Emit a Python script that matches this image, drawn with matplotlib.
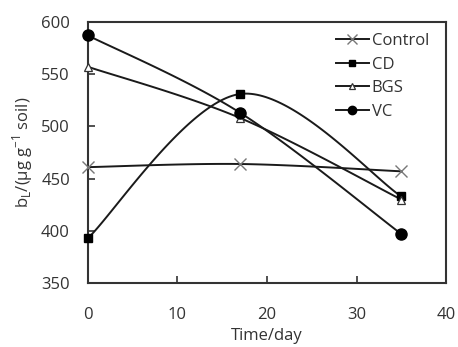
import matplotlib
matplotlib.use("Agg")
import matplotlib.pyplot as plt
import numpy as np

# data
days = [0, 17, 35]
control = [461, 464, 457]
cd = [393, 531, 433]
bgs = [557, 508, 430]
vc = [587, 513, 397]

plt.rcParams['font.family'] = ['Open Sans', 'DejaVu Sans']

fig = plt.figure(figsize=(4.58, 3.47), dpi=100)
ax = fig.add_axes([0.192, 0.184, 0.782, 0.753])
ax.set_xlim(0, 40)
ax.set_ylim(350, 600)

# axes size in pixels, used to smooth in screen space like Excel does
W = 0.782 * 458
H = 0.753 * 347


def smooth(xs, ys, n=60):
    # Catmull-Rom style Bezier through the points (screen space)
    px = np.array(xs, float) / 40 * W
    py = (np.array(ys, float) - 350) / 250 * H
    pts = np.column_stack([px, py])
    out = []
    for i in range(len(pts) - 1):
        p0 = pts[i - 1] if i > 0 else pts[i]
        p1 = pts[i]
        p2 = pts[i + 1]
        p3 = pts[i + 2] if i + 2 < len(pts) else pts[i + 1]
        c1 = p1 + (p2 - p0) / 6
        c2 = p2 - (p3 - p1) / 6
        t = np.linspace(0, 1, n)[:, None]
        seg = ((1 - t) ** 3 * p1 + 3 * (1 - t) ** 2 * t * c1
               + 3 * (1 - t) * t ** 2 * c2 + t ** 3 * p2)
        out.append(seg)
    seg = np.vstack(out)
    return seg[:, 0] / W * 40, seg[:, 1] / H * 250 + 350


series = [
    ("Control", control, dict(marker='x', markersize=9, markeredgecolor='#777777',
                              markerfacecolor='none', markeredgewidth=1.0)),
    ("CD", cd, dict(marker='s', markersize=6, markeredgecolor='black',
                    markerfacecolor='black')),
    ("BGS", bgs, dict(marker='^', markersize=6, markeredgecolor='#333333',
                      markerfacecolor='white', markeredgewidth=0.9)),
    ("VC", vc, dict(marker='o', markersize=8, markeredgecolor='black',
                    markerfacecolor='black')),
]

lc = '#1a1a1a'
for name, vals, mk in series:
    sx, sy = smooth(days, vals)
    ax.plot(sx, sy, color=lc, lw=1.4, zorder=2)
    ax.plot(days, vals, linestyle='none', zorder=3, clip_on=False, **mk)
    # legend proxy
    ax.plot([], [], color=lc, lw=1.4, label=name, **mk)

ax.set_xticks([0, 10, 20, 30, 40])
ax.set_yticks([350, 400, 450, 500, 550, 600])
ax.tick_params(direction='in', length=5, width=1.2, labelsize=12,
               colors='#333333')
ax.tick_params(axis='x', pad=17)
ax.tick_params(axis='y', pad=13)
for s in ax.spines.values():
    s.set_linewidth(1.5)
    s.set_color('#333333')

ax.set_xlabel("Time/day", fontsize=12, color='#333333', labelpad=4)
ax.set_ylabel(r"b$_\mathregular{L}$/(μg g$^{\mathregular{-1}}$ soil)",
              fontsize=12, color='#333333', labelpad=4)

leg = ax.legend(loc='upper right', frameon=False, fontsize=12,
                handlelength=2.0, handletextpad=0.15, labelspacing=0.45,
                borderaxespad=0.2, markerscale=0.75,
                bbox_to_anchor=(0.98, 0.995))
for t in leg.get_texts():
    t.set_color('#333333')

fig.savefig("out.png", dpi=100)
